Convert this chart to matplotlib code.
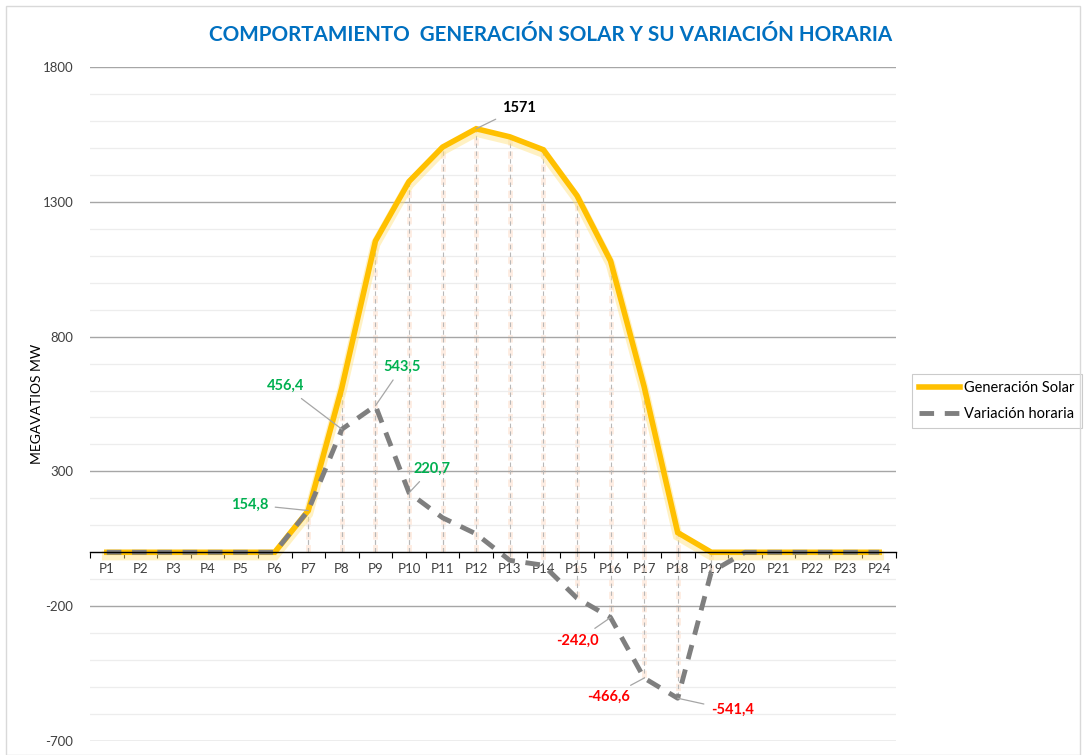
import matplotlib
matplotlib.use("Agg")
import matplotlib.pyplot as plt
from matplotlib.patches import Rectangle
import numpy as np

periods = [f"P{i}" for i in range(1, 25)]
solar = [0, 0, 0, 0, 0, 0, 154.8, 611.2, 1154.7, 1375.4, 1503, 1571,
         1541, 1493, 1323, 1081, 614.4, 73, 0, 0, 0, 0, 0, 0]
variacion = [0, 0, 0, 0, 0, 0, 154.8, 456.4, 543.5, 220.7, 128, 68,
             -30, -48, -170, -242.0, -466.6, -541.4, -73, 0, 0, 0, 0, 0]

# labelled points: (index, text, series, colour, dx px, dy px, ha)
labels = [
    (6, "154,8", "v", "#00B050", -40, 6, "right"),
    (7, "456,4", "v", "#00B050", -38, 43, "right"),
    (8, "543,5", "v", "#00B050", 8, 39, "left"),
    (9, "220,7", "v", "#00B050", 4, 24, "left"),
    (11, "1571", "s", "#000000", 26, 21, "left"),
    (15, "-242,0", "v", "#FF0000", -12, -23, "right"),
    (16, "-466,6", "v", "#FF0000", -14, -19, "right"),
    (17, "-541,4", "v", "#FF0000", 33, -12, "left"),
]

plt.rcParams['font.family'] = ['Lato', 'DejaVu Sans']

fig = plt.figure(figsize=(10.86, 7.55), dpi=100)
ax = fig.add_axes([90/1086, 1-741/755, (896-90)/1086, (741-67)/755])

x = np.arange(1, 25)

# gridlines
ax.set_ylim(-700, 1800)
ax.set_xlim(0.5, 24.5)
ax.set_yticks(np.arange(-700, 1801, 500))
ax.set_yticks(np.arange(-700, 1801, 100), minor=True)
ax.grid(axis='y', which='major', color='#A6A6A6', lw=1.0, zorder=0)
ax.grid(axis='y', which='minor', color='#EDEDED', lw=0.9, zorder=0)

# drop lines (both series)
for xi, s, v in zip(x, solar, variacion):
    for val in (s, v):
        if val != 0:
            ax.vlines(xi, 0, val, color='#FEEDE3', lw=3.5, linestyles=(0, (1.5, 1.2)), zorder=1)
            ax.vlines(xi, 0, val, color='#B8B8B8', lw=0.8, linestyles=(0, (4, 3)), zorder=2)

# solar line with glow
ax.plot(x, np.array(solar) - 12, color='#FFE27A', lw=7, alpha=0.45, zorder=3, solid_joinstyle='miter')
ax.plot(x, solar, color='#FFC000', lw=4, zorder=4, solid_joinstyle='miter', label='Generación Solar')
# variation
ax.plot(x, variacion, color='#7F7F7F', lw=3.5, ls=(0, (3, 2.2)), zorder=5, label='Variación horaria')

# axes styling
for sp in ['top', 'right', 'left']:
    ax.spines[sp].set_visible(False)
ax.spines['bottom'].set_position(('data', 0))
ax.spines['bottom'].set_color('black')
ax.spines['bottom'].set_linewidth(1.0)
ax.spines['bottom'].set_zorder(6)
ax.set_xticks(x)
ax.set_xticklabels(periods, fontsize=9.5, color='#404040')
ax.set_xticks(np.arange(0.5, 24.6, 1), minor=True)
ax.tick_params(axis='x', which='major', length=0, pad=8)
ax.tick_params(axis='x', which='minor', length=4, width=0.8, color='black', direction='out')
ax.tick_params(axis='y', which='both', length=0, pad=12, labelsize=9.5, labelcolor='#404040')
ax.set_yticklabels([f"{v}" for v in range(-700, 1801, 500)])
ax.set_ylabel('MEGAVATIOS MW', fontsize=10, color='#000000', labelpad=0)

# annotations
for idx, txt, ser, col, dx, dy, ha in labels:
    yv = solar[idx] if ser == 's' else variacion[idx]
    ax.annotate(txt, xy=(x[idx], yv), xytext=(dx, dy), textcoords='offset pixels',
                ha=ha, va='center', fontsize=10.5, fontweight='bold', color=col,
                arrowprops=dict(arrowstyle='-', color='#A6A6A6', lw=0.9,
                                shrinkA=3, shrinkB=0), zorder=7)

# title
fig.text(551/1086, 1-35/755, 'COMPORTAMIENTO  GENERACIÓN SOLAR Y SU VARIACIÓN HORARIA',
         ha='center', va='center', fontsize=14.9, fontweight='bold', color='#0070C0')

# legend
leg = ax.legend(loc='center left', bbox_to_anchor=(912/1086, 1-401/755),
                bbox_transform=fig.transFigure, frameon=True, fontsize=10.5,
                handlelength=2.8, handletextpad=0.3, borderpad=0.5, borderaxespad=0,
                labelspacing=0.8, fancybox=False)
leg.get_frame().set_edgecolor('#BFBFBF')
leg.get_frame().set_linewidth(0.8)

# chart border
fig.patches.append(Rectangle((6/1086, 0), 1 - 12/1086, 1 - 6/755, transform=fig.transFigure,
                             fill=False, edgecolor='#D9D9D9', lw=1.0))

fig.savefig('out.png', dpi=100)
